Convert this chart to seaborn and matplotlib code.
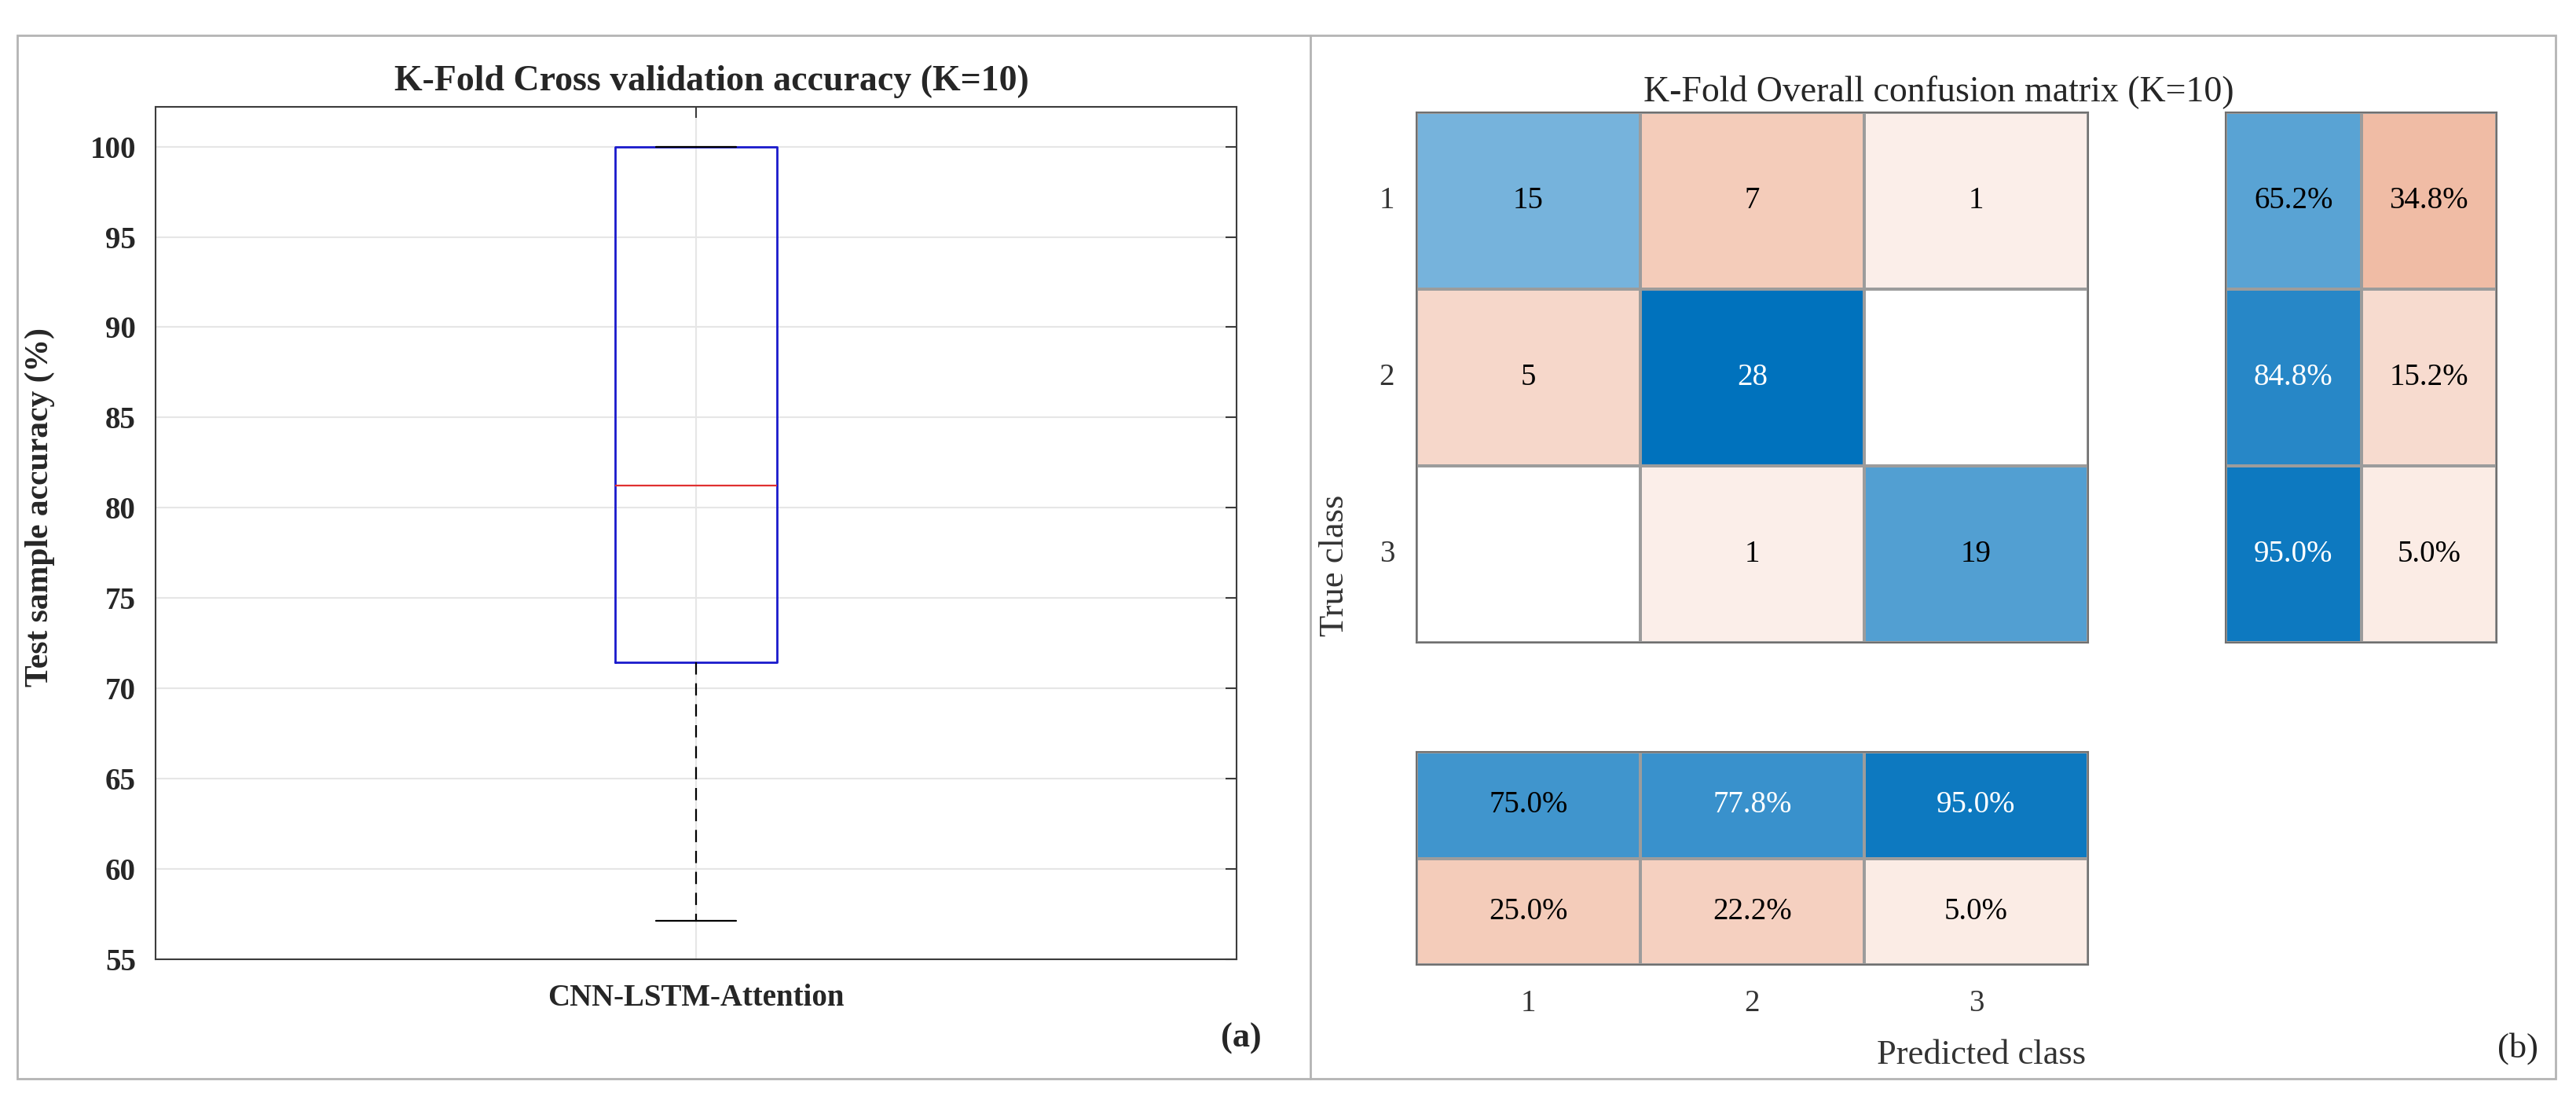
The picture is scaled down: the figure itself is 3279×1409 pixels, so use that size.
import numpy as np
import pandas as pd
import seaborn as sns
import matplotlib.pyplot as plt
from matplotlib.colors import LinearSegmentedColormap
from matplotlib.patches import Rectangle
from matplotlib.lines import Line2D

# Data
MODEL_NAME = "CNN-LSTM-Attention"
fold_acc = [57.14, 66.67, 71.43, 71.43, 75.0, 87.5, 100.0, 100.0, 100.0, 100.0]
acc_ticks = [55, 60, 65, 70, 75, 80, 85, 90, 95, 100]

classes = ["1", "2", "3"]
conf_counts = [[15, 7, 1],
               [5, 28, 0],
               [0, 1, 19]]
row_pct = [[65.2, 34.8],
           [84.8, 15.2],
           [95.0, 5.0]]
col_pct = [[75.0, 77.8, 95.0],
           [25.0, 22.2, 5.0]]

# Figure geometry (pixels)
W, H = 3280, 1409
DPI = 100


def box(x0, y0, x1, y1):
    # pixel box (top-left origin) -> figure fraction rect
    return [x0 / W, 1 - y1 / H, (x1 - x0) / W, (y1 - y0) / H]


sns.set_style("white")
plt.rcParams['font.family'] = ['Liberation Serif', 'DejaVu Serif']

fig = plt.figure(figsize=(W / DPI, H / DPI), dpi=DPI)

# outer frame and divider
fig.patches.append(Rectangle((22 / W, 1 - 1373 / H), (3253 - 22) / W, (1373 - 45) / H,
                             transform=fig.transFigure, fill=False,
                             edgecolor='#b4b4b4', lw=2))
fig.lines.append(Line2D([1668 / W, 1668 / W], [1 - 1373 / H, 1 - 45 / H],
                        transform=fig.transFigure, color='#b4b4b4', lw=2))

# ---------------- (a) box plot ----------------
ax = fig.add_axes(box(198, 136, 1574, 1221))
df = pd.DataFrame({'Model': MODEL_NAME, 'Accuracy': fold_acc})
sns.boxplot(data=df, x='Model', y='Accuracy', ax=ax, width=0.149, fill=False,
            color='#1a1acc', saturation=1, linewidth=2, whis=1.5,
            medianprops={'color': '#e03030', 'linewidth': 1.6},
            whiskerprops={'color': 'black', 'linestyle': (0, (7, 5)), 'linewidth': 1.6},
            capprops={'color': 'black', 'linewidth': 1.6})
ax.set_xlim(-0.5, 0.5)
ax.set_ylim(55, 102.2)
ax.set_yticks(acc_ticks)
ax.grid(True, color='#e6e6e6', lw=1.5)
ax.set_axisbelow(True)
for sp in ax.spines.values():
    sp.set_visible(True)
    sp.set_color('#3c3c3c')
    sp.set_linewidth(1.5)
ax.tick_params(axis='both', direction='in', length=10, width=1.5, color='#3c3c3c',
               top=True, right=True, labelsize=28, labelcolor='#262626')
ax.tick_params(axis='y', pad=18)
ax.tick_params(axis='x', pad=22)
for lab in ax.get_xticklabels() + ax.get_yticklabels():
    lab.set_fontweight('bold')
ax.set_xlabel('')
ax.set_ylabel('Test sample accuracy (%)', fontsize=30, fontweight='bold', color='#262626')
ax.yaxis.set_label_coords(-0.093, 0.53)
fig.text(906 / W, 1 - 104 / H, 'K-Fold Cross validation accuracy (K=10)',
         ha='center', va='center', fontsize=33, fontweight='bold')
fig.text(1580 / W, 1 - 1322 / H, '(a)', ha='center', va='center',
         fontsize=32, fontweight='bold')

# ---------------- (b) confusion chart ----------------
red = np.array([217, 83, 25]) / 255
blue = np.array([0, 114, 189]) / 255
faint_red = 1 - 0.07 * (1 - red)   # off-diagonal cells never go fully white
cmap = LinearSegmentedColormap.from_list(
    'cm', [(0.0, red), (0.497, faint_red), (0.5, (1, 1, 1)), (1.0, blue)], N=2048)


def draw_cells(ax, signed, labels, yticks=False, xticks=False):
    sns.heatmap(signed, ax=ax, cmap=cmap, vmin=-1, vmax=1, cbar=False,
                annot=labels, fmt='', linewidths=1.5, linecolor='#9c9c9c',
                annot_kws={'fontsize': 28},
                xticklabels=classes if xticks else False,
                yticklabels=classes if yticks else False)
    for t, v in zip(ax.texts, np.asarray(signed).flat):
        t.set_color('white' if v > 0.76 else 'black')
    for sp in ax.spines.values():
        sp.set_visible(True)
        sp.set_color('#707070')
        sp.set_linewidth(1.5)
    ax.tick_params(length=0, labelsize=28, labelcolor='#333333')


conf = np.array(conf_counts, dtype=float)
diag = np.eye(len(classes), dtype=bool)
conf_signed = np.where(diag, conf, -conf) / conf.max()
conf_labels = np.where(conf > 0, conf.astype(int).astype(str), '')

ax_cm = fig.add_axes(box(1803, 143, 2658, 818))
draw_cells(ax_cm, conf_signed, conf_labels, yticks=True)
ax_cm.tick_params(axis='y', pad=20, labelrotation=0)

rp = np.array(row_pct)
rp_signed = np.column_stack([rp[:, 0], -rp[:, 1]]) / 100
rp_labels = np.vectorize(lambda v: f"{v:.1f}%")(rp)
ax_rs = fig.add_axes(box(2833, 143, 3178, 818))
draw_cells(ax_rs, rp_signed, rp_labels)

cp = np.array(col_pct)
cp_signed = np.vstack([cp[0], -cp[1]]) / 100
cp_labels = np.vectorize(lambda v: f"{v:.1f}%")(cp)
ax_cs = fig.add_axes(box(1803, 957, 2658, 1228))
draw_cells(ax_cs, cp_signed, cp_labels, xticks=True)
ax_cs.tick_params(axis='x', pad=22)

fig.text(2468 / W, 1 - 117 / H, 'K-Fold Overall confusion matrix (K=10)',
         ha='center', va='center', fontsize=33)
fig.text(1699 / W, 1 - 720 / H, 'True class', rotation=90,
         ha='center', va='center', fontsize=32, color='#333333')
fig.text(2522 / W, 1 - 1343 / H, 'Predicted class',
         ha='center', va='center', fontsize=32, color='#333333')
fig.text(3205 / W, 1 - 1335 / H, '(b)', ha='center', va='center', fontsize=32)

fig.savefig('out.png', dpi=DPI)
